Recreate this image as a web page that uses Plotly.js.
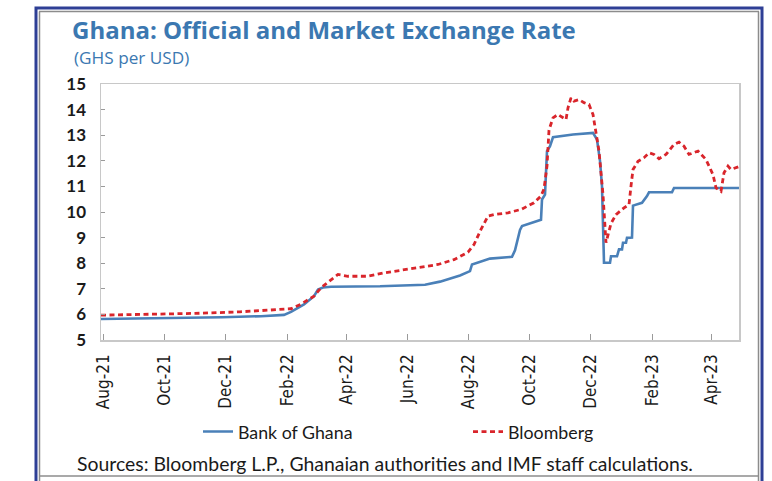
<!DOCTYPE html>
<html>
<head>
<meta charset="utf-8">
<script src="https://cdn.plot.ly/plotly-3.0.1.min.js"></script>
<style>
  html, body { margin: 0; padding: 0; background: #ffffff; }
  #chart { width: 772px; height: 481px; }
</style>
</head>
<body>
<div id="chart"></div>
<script>
// Bank of Ghana (official) rate, GHS per USD
const bogDates = [
  "2021-07-30","2021-09-27","2021-11-28","2022-01-06","2022-01-29","2022-02-05",
  "2022-02-18","2022-02-28","2022-03-04","2022-03-09","2022-03-17","2022-05-05",
  "2022-06-04","2022-06-19","2022-07-04","2022-07-24","2022-08-03","2022-08-05",
  "2022-08-23","2022-09-14","2022-09-17","2022-09-22","2022-09-24","2022-10-09",
  "2022-10-13","2022-10-14","2022-10-17","2022-10-19","2022-10-22","2022-10-25",
  "2022-11-14","2022-12-04","2022-12-08","2022-12-11","2022-12-13","2022-12-15",
  "2022-12-21","2022-12-22","2022-12-28","2022-12-30","2023-01-02","2023-01-03",
  "2023-01-06","2023-01-07","2023-01-12","2023-01-13","2023-01-22","2023-01-27",
  "2023-01-29","2023-02-21","2023-02-23","2023-04-30"
];
const bogValues = [
  5.82, 5.84, 5.89, 5.93, 5.98, 6.10,
  6.39, 6.71, 6.97, 7.05, 7.08, 7.10,
  7.13, 7.16, 7.28, 7.52, 7.69, 7.95,
  8.18, 8.25, 8.50, 9.30, 9.45, 9.64,
  9.70, 10.49, 10.68, 12.38, 12.57, 12.92,
  13.03, 13.09, 12.83, 12.00, 11.00, 8.02,
  8.02, 8.27, 8.27, 8.54, 8.54, 8.80,
  8.80, 8.99, 9.00, 10.25, 10.36, 10.62,
  10.77, 10.77, 10.94, 10.94
];

// Bloomberg (market) rate, GHS per USD
const bbgDates = [
  "2021-07-30","2021-09-27","2021-11-01","2021-12-16","2022-01-27","2022-02-05",
  "2022-02-15","2022-02-28","2022-03-07","2022-03-17","2022-03-24","2022-04-03",
  "2022-04-23","2022-05-09","2022-05-29","2022-06-15","2022-07-02","2022-07-18",
  "2022-08-01","2022-08-07","2022-08-14","2022-08-21","2022-08-27","2022-09-10",
  "2022-09-23","2022-10-06","2022-10-13","2022-10-16","2022-10-19","2022-10-21",
  "2022-10-25","2022-10-30","2022-11-04","2022-11-07","2022-11-09","2022-11-12",
  "2022-11-15","2022-11-20","2022-11-25","2022-11-30","2022-12-04","2022-12-07",
  "2022-12-10","2022-12-14","2022-12-17","2022-12-22","2022-12-27","2023-01-04",
  "2023-01-09","2023-01-11","2023-01-13","2023-01-18","2023-01-24","2023-01-29",
  "2023-02-03","2023-02-08","2023-02-15","2023-02-23","2023-02-28","2023-03-05",
  "2023-03-10","2023-03-19","2023-03-27","2023-04-03","2023-04-06","2023-04-11",
  "2023-04-14","2023-04-18","2023-04-21","2023-04-30"
];
const bbgValues = [
  5.97, 6.00, 6.04, 6.10, 6.20, 6.22,
  6.40, 6.71, 7.04, 7.36, 7.56, 7.49,
  7.49, 7.62, 7.75, 7.86, 7.95, 8.14,
  8.43, 8.73, 9.32, 9.84, 9.90, 9.97,
  10.10, 10.36, 10.62, 10.90, 11.80, 13.20,
  13.68, 13.81, 13.68, 13.61, 14.07, 14.46,
  14.33, 14.39, 14.27, 14.20, 13.81, 13.16,
  12.38, 10.68, 8.80, 9.55, 9.90, 10.16,
  10.29, 11.01, 11.66, 11.98, 12.12, 12.31,
  12.25, 12.08, 12.25, 12.64, 12.73, 12.57,
  12.25, 12.38, 12.05, 11.46, 10.94, 10.81,
  11.53, 11.79, 11.66, 11.79
];

const tickDates = ["2021-08-01","2021-10-01","2021-12-01","2022-02-01","2022-04-01","2022-06-01",
                   "2022-08-01","2022-10-01","2022-12-01","2023-02-01","2023-04-01"];
const tickLabels = ["Aug-21","Oct-21","Dec-21","Feb-22","Apr-22","Jun-22",
                    "Aug-22","Oct-22","Dec-22","Feb-23","Apr-23"];
const yTicks = [5,6,7,8,9,10,11,12,13,14,15];

const narrow = '"Liberation Sans Narrow", "DejaVu Sans Condensed", "Arial Narrow", sans-serif';

const traces = [
  { x: bogDates, y: bogValues, type: 'scatter', mode: 'lines', name: 'Bank of Ghana',
    line: { color: '#4a80b8', width: 2.6 } },
  { x: bbgDates, y: bbgValues, type: 'scatter', mode: 'lines', name: 'Bloomberg',
    line: { color: '#d9252b', width: 2.8, dash: '5px,3.5px' } }
];

// paper-coordinate helpers (plot area 101..739 x, 84..340 y)
const L = 101, R = 739, T = 84, B = 340;
const px = v => (v - L) / (R - L);
const py = v => (B - v) / (B - T);

const layout = {
  width: 772, height: 481,
  margin: { l: L, r: 772 - R, t: T, b: 481 - B, pad: 0 },
  paper_bgcolor: '#ffffff', plot_bgcolor: '#ffffff',
  showlegend: true,
  title: {
    text: '<b>Ghana: Official and Market Exchange Rate</b>',
    font: { family: '"Open Sans", sans-serif', size: 24, color: '#3b78b1' },
    xref: 'container', yref: 'container', x: 72 / 772, xanchor: 'left',
    y: 1 - 31 / 481, yanchor: 'middle'
  },
  xaxis: {
    type: 'date', range: ['2021-07-30', '2023-04-29'],
    tickmode: 'array', tickvals: tickDates, ticktext: tickLabels,
    tickangle: -90, ticks: 'inside', ticklen: 6, tickcolor: '#9a9a9a', tickwidth: 1,
    tickfont: { family: narrow, size: 17, color: '#1a1a1a' },
    ticklabelstandoff: 6,
    showgrid: false, zeroline: false,
    showline: true, mirror: true, linecolor: '#c8c8c8', linewidth: 1.5,
    fixedrange: true
  },
  yaxis: {
    range: [5, 15], tickmode: 'array', tickvals: yTicks,
    ticks: 'inside', ticklen: 4, tickcolor: '#9a9a9a',
    tickfont: { family: 'Lato, sans-serif', size: 17, color: '#1a1a1a', weight: 'bold' },
    ticklabelstandoff: 10,
    showgrid: false, zeroline: false,
    showline: true, mirror: true, linecolor: '#c8c8c8', linewidth: 1.5,
    fixedrange: true
  },
  legend: {
    orientation: 'h', x: px(198), xanchor: 'left', y: py(432), yanchor: 'middle',
    font: { family: 'Lato, sans-serif', size: 17.8, color: '#1a1a1a' },
    entrywidth: 225, entrywidthmode: 'pixels',
    bgcolor: 'rgba(0,0,0,0)', itemwidth: 30
  },
  annotations: [
    { text: '(GHS per USD)', xref: 'paper', yref: 'paper', x: px(72), y: py(57),
      xanchor: 'left', yanchor: 'middle', showarrow: false,
      font: { family: '"Open Sans", sans-serif', size: 17.2, color: '#3b78b1' } },
    { text: 'Sources: Bloomberg L.P., Ghanaian authorities and IMF staff calculations.',
      xref: 'paper', yref: 'paper', x: px(75), y: py(463),
      xanchor: 'left', yanchor: 'middle', showarrow: false,
      font: { family: 'Lato, sans-serif', size: 19.4, color: '#1a1a1a' } }
  ],
  shapes: [
    { type: 'rect', xref: 'paper', yref: 'paper', x0: px(36), x1: px(762), y0: py(490), y1: py(8),
      line: { color: '#2e3f95', width: 3 }, layer: 'below' },
    { type: 'line', xref: 'paper', yref: 'paper', x0: px(39), x1: px(759), y0: py(11.5), y1: py(11.5),
      line: { color: '#8c8c8c', width: 1.5 } },
    { type: 'line', xref: 'paper', yref: 'paper', x0: px(39.5), x1: px(39.5), y0: py(490), y1: py(11.5),
      line: { color: '#8c8c8c', width: 1.5 } },
    { type: 'line', xref: 'paper', yref: 'paper', x0: px(758.5), x1: px(758.5), y0: py(490), y1: py(11.5),
      line: { color: '#8c8c8c', width: 1.5 } },
    { type: 'line', xref: 'paper', yref: 'paper', x0: px(39), x1: px(759), y0: py(476), y1: py(476),
      line: { color: '#8c8c8c', width: 1.5 } }
  ]
};

Plotly.newPlot('chart', traces, layout, { displayModeBar: false, staticPlot: true });
</script>
</body>
</html>
